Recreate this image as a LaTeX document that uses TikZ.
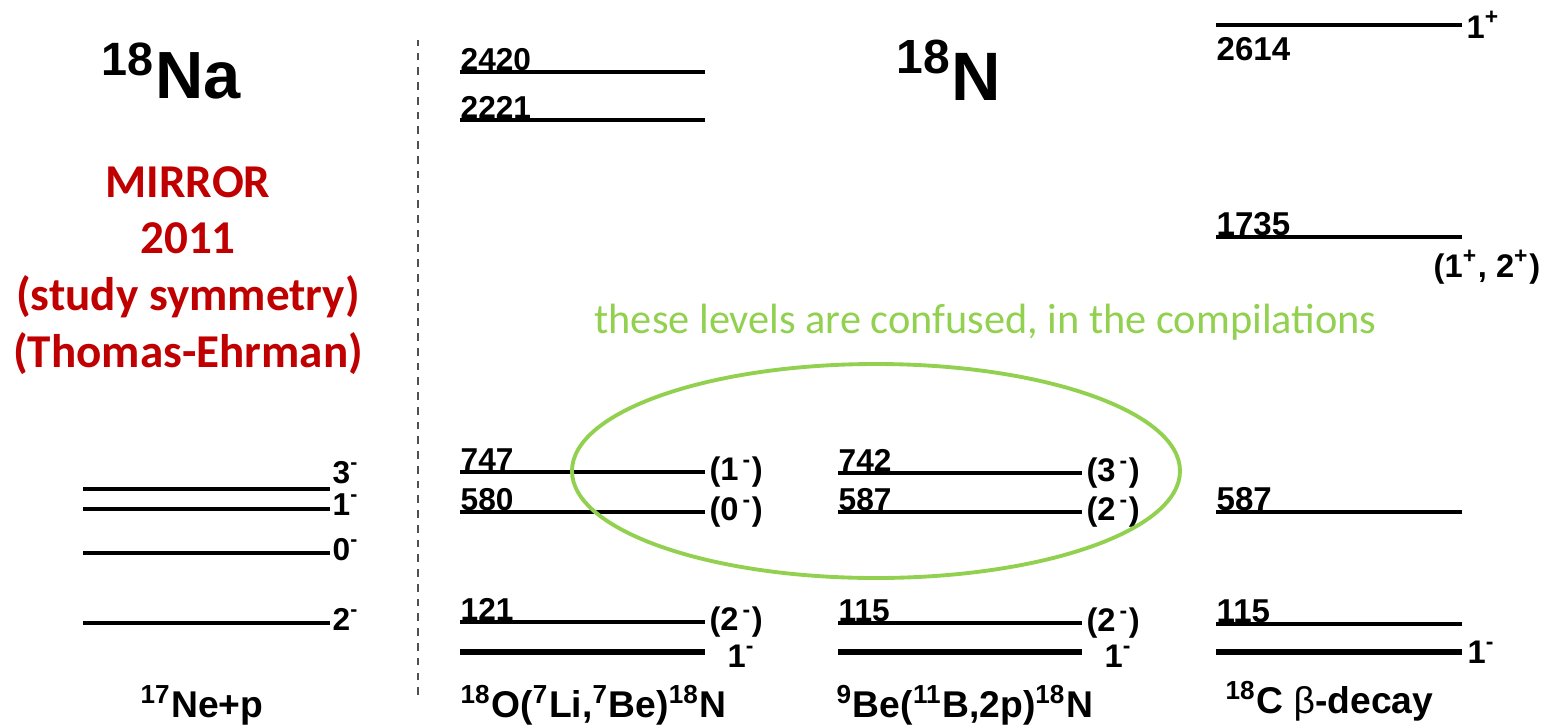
\documentclass[tikz,border=0pt]{standalone}
\usepackage{fontspec}
\setmainfont{Liberation Sans}
\newfontfamily\calibri{Carlito}
\usetikzlibrary{positioning}
\definecolor{cMirror}{RGB}{192,0,0}
\definecolor{cNote}{RGB}{146,208,80}
\definecolor{dashgray}{RGB}{80,80,80}
\newcommand{\Jpi}[2]{#1\textsuperscript{#2}}
\newcommand{\Jpar}[2]{(#1\kern0.12em\textsuperscript{#2})}

\begin{document}
\begin{tikzpicture}[font=\bfseries\fontsize{9}{10}\selectfont,
    lvl/.style={line width=0.9pt},
    gnd/.style={line width=1.5pt},
    energy/.style={anchor=base west, inner sep=0pt},
    spin/.style={anchor=west, inner sep=0pt, xshift=0.03cm, font=\bfseries\fontsize{9.3}{11}\selectfont},
    gspin/.style={spin, xshift=0.17cm, yshift=-0.04cm},
    ttl/.style={anchor=base west, inner sep=0pt, font=\bfseries\fontsize{10.6}{12}\selectfont},
    nucl/.style={anchor=base, inner sep=0pt},
    mirror/.style={anchor=base, inner sep=0pt, text=cMirror, font=\calibri\bfseries\fontsize{13.4}{15}\selectfont}]
  \useasboundingbox (0,0) rectangle (15.55,7.26);
  % 18Na side, mirror levels from 17Ne+p
  \node[nucl, font=\bfseries\fontsize{19}{21}\selectfont] (na) at (1.71,6.28) {\textsuperscript{18}Na};
  \node[mirror] (mir1) at (1.88,5.29) {MIRROR};
  \node[mirror] (mir2) at (1.88,4.73) {2011};
  \node[mirror] (mir3) at (1.88,4.16) {(study symmetry)};
  \node[mirror] (mir4) at (1.88,3.59) {(Thomas-Ehrman)};
  \draw[lvl] (0.83,2.37) -- (3.30,2.37);
  \node[energy] (na3) at (3.32,2.43) {\Jpi{3}{-}};
  \draw[lvl] (0.83,2.17) -- (3.30,2.17);
  \node[energy] (na1) at (3.32,2.11) {\Jpi{1}{-}};
  \draw[lvl] (0.83,1.73) -- (3.30,1.73);
  \node[energy] (na0) at (3.32,1.66) {\Jpi{0}{-}};
  \draw[lvl] (0.83,1.03) -- (3.30,1.03);
  \node[energy] (na2) at (3.32,0.96) {\Jpi{2}{-}};
  \node[nucl, font=\bfseries\fontsize{10.6}{12}\selectfont] (nep) at (2.02,0.09) {\textsuperscript{17}Ne+p};
  \draw[dashgray, line width=0.5pt, dash pattern=on 2.2pt off 2pt] (4.18,0.31) -- (4.18,6.86);
  % 18N from 18O(7Li,7Be)
  \draw[lvl] (4.60,6.54) -- (7.05,6.54);
  \node[energy] (a2420) at (4.60,6.56) {2420};
  \draw[lvl] (4.60,6.06) -- (7.05,6.06);
  \node[energy] (a2221) at (4.60,6.08) {2221};
  \draw[lvl] (4.60,2.54) -- (7.05,2.54) node[spin] (sa747) {\Jpar{1}{-}};
  \node[energy] (a747) at (4.60,2.56) {747};
  \draw[lvl] (4.60,2.14) -- (7.05,2.14) node[spin] (sa580) {\Jpar{0}{-}};
  \node[energy] (a580) at (4.60,2.16) {580};
  \draw[lvl] (4.60,1.04) -- (7.05,1.04) node[spin] (sa121) {\Jpar{2}{-}};
  \node[energy] (a121) at (4.60,1.06) {121};
  \draw[gnd] (4.60,0.74) -- (7.05,0.74) node[gspin] (sa0) {\Jpi{1}{-}};
  \node[ttl] (ta) at (4.60,0.09) {\textsuperscript{18}O(\textsuperscript{7}Li,\textsuperscript{7}Be)\textsuperscript{18}N};
  % 18N from 9Be(11B,2p)
  \node[nucl, font=\bfseries\fontsize{19.5}{21}\selectfont] (nn) at (9.49,6.26) {\textsuperscript{18}N};
  \draw[lvl] (8.38,2.53) -- (10.82,2.53) node[spin] (sb742) {\Jpar{3}{-}};
  \node[energy] (b742) at (8.38,2.55) {742};
  \draw[lvl] (8.38,2.14) -- (10.82,2.14) node[spin] (sb587) {\Jpar{2}{-}};
  \node[energy] (b587) at (8.38,2.16) {587};
  \draw[lvl] (8.38,1.03) -- (10.82,1.03) node[spin] (sb115) {\Jpar{2}{-}};
  \node[energy] (b115) at (8.38,1.05) {115};
  \draw[gnd] (8.38,0.74) -- (10.82,0.74) node[gspin] (sb0) {\Jpi{1}{-}};
  \node[ttl] (tb) at (8.36,0.09) {\textsuperscript{9}Be(\textsuperscript{11}B,2p)\textsuperscript{18}N};
  % 18N from 18C beta decay
  \begin{scope}[font=\bfseries\fontsize{9.4}{11}\selectfont]
  \draw[lvl] (12.16,7.01) -- (14.62,7.01) node[spin] (sc2614) {\Jpi{1}{+}};
  \node[energy] (c2614) at (12.16,6.66) {2614};
  \draw[lvl] (12.16,4.89) -- (14.62,4.89);
  \node[energy] (c1735) at (12.16,4.91) {1735};
  \node[spin, xshift=0pt] (sc1735) at (14.30,4.59) {(\Jpi{1}{+}, \Jpi{2}{+})};
  \draw[lvl] (12.16,2.14) -- (14.62,2.14);
  \node[energy] (c587) at (12.16,2.16) {587};
  \draw[lvl] (12.16,1.02) -- (14.62,1.02);
  \node[energy] (c115) at (12.16,1.04) {115};
  \draw[gnd] (12.16,0.74) -- (14.62,0.74) node[spin] (sc0) {\Jpi{1}{-}};
  \end{scope}
  \node[ttl] (tc) at (12.25,0.13) {\textsuperscript{18}C {\mdseries β}-decay};
  % the two confused levels
  \draw[cNote, line width=1.1pt] (8.76,2.55) ellipse (3.04cm and 1.07cm);
  \node[nucl, text=cNote, font=\calibri\fontsize{12.05}{14}\selectfont] (note) at (9.855,3.93) {these levels are confused, in the compilations};
\end{tikzpicture}
\end{document}
